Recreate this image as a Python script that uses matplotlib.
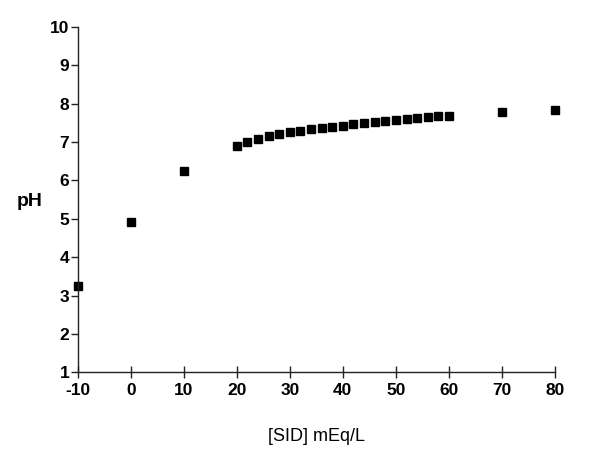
import matplotlib
matplotlib.use("Agg")
import matplotlib.pyplot as plt

sid = [-10, 0, 10] + list(range(20, 61, 2)) + [70, 80]
ph = [3.26, 4.92, 6.25,
      6.90, 7.01, 7.08, 7.16, 7.20, 7.25, 7.29, 7.33, 7.36, 7.40, 7.42,
      7.47, 7.49, 7.53, 7.55, 7.56, 7.60, 7.62, 7.64, 7.67, 7.67,
      7.77, 7.84]
xticks = [-10, 0, 10, 20, 30, 40, 50, 60, 70, 80]
yticks = [1, 2, 3, 4, 5, 6, 7, 8, 9, 10]

plt.rcParams['font.family'] = ['Liberation Sans', 'DejaVu Sans']
plt.rcParams['axes.unicode_minus'] = False
fig = plt.figure(figsize=(6.0, 4.73), dpi=100)
ax = fig.add_axes([0.1295, 0.2125, 0.7955, 0.731])
ax.plot(sid, ph, linestyle='none', marker='s', markersize=5.5, color='black', clip_on=False)
ax.set_xlim(-10, 80)
ax.set_ylim(1, 10)
ax.set_xticks(xticks)
ax.set_yticks(yticks)
for s in ['top', 'right']:
    ax.spines[s].set_visible(False)
for s in ['left', 'bottom']:
    ax.spines[s].set_linewidth(1.0)
    ax.spines[s].set_color('#222222')
ax.tick_params(axis='x', direction='inout', length=9, width=1, pad=3, labelsize=12.5, color='#222222')
ax.tick_params(axis='y', direction='out', length=5, width=1, pad=1, labelsize=12.5, color='#222222')
for lbl in ax.get_xticklabels() + ax.get_yticklabels():
    lbl.set_fontweight('bold')
ax.set_xlabel('[SID] mEq/L', fontsize=13, labelpad=22)
ax.set_ylabel('pH', fontsize=14, fontweight='bold', rotation=0, va='center', ha='center')
ax.yaxis.set_label_coords(-0.1, (5.44 - 1) / 9)
fig.savefig('out.png', dpi=100)
